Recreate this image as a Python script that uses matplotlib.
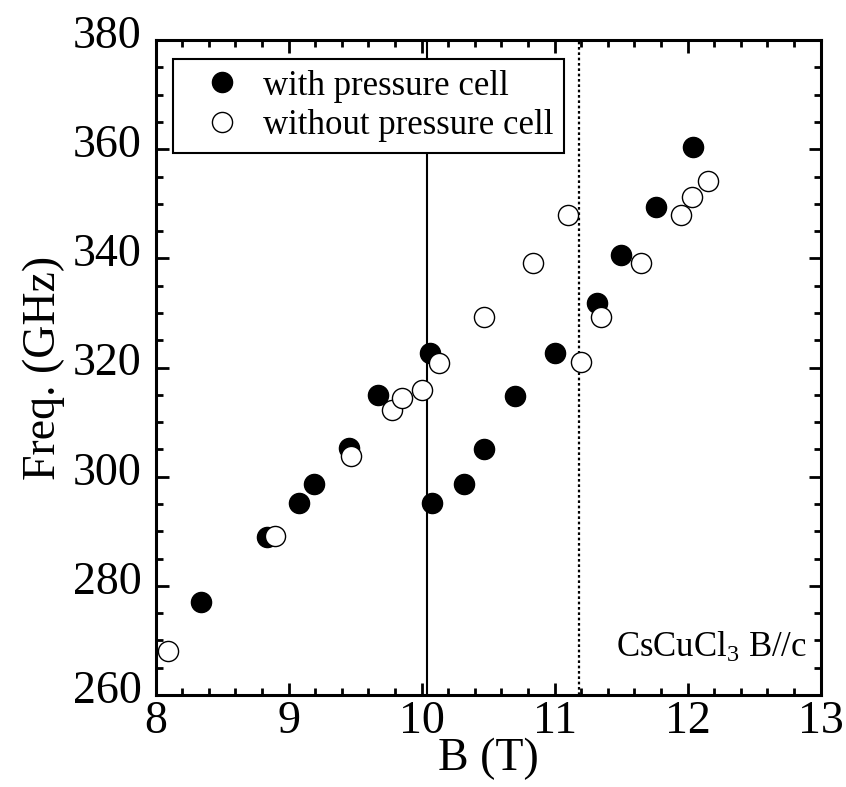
import numpy as np
import matplotlib
matplotlib.use('Agg')
import matplotlib.pyplot as plt
import matplotlib.transforms as mtransforms
from matplotlib.ticker import MultipleLocator

plt.rcParams['font.family'] = ['Liberation Serif', 'DejaVu Serif']
plt.rcParams['mathtext.fontset'] = 'custom'
plt.rcParams['mathtext.rm'] = 'Liberation Serif'
plt.rcParams['mathtext.it'] = 'Liberation Serif:italic'

# with pressure cell (filled)
b_with = [8.34, 8.84, 9.08, 9.19, 9.45, 9.67, 10.06, 10.08, 10.32, 10.47,
          10.70, 11.00, 11.32, 11.50, 11.76, 12.04]
f_with = [277.1, 288.9, 295.1, 298.6, 305.2, 314.9, 322.6, 295.1, 298.6, 305.1,
          314.8, 322.6, 331.9, 340.7, 349.5, 360.4]

# without pressure cell (open)
b_without = [8.09, 8.90, 9.47, 9.78, 9.85, 10.00, 10.13, 10.47, 10.84, 11.10,
             11.20, 11.35, 11.65, 11.95, 12.03, 12.15]
f_without = [268.1, 289.2, 303.7, 312.2, 314.5, 315.9, 320.9, 329.3, 339.1, 348.0,
             321.0, 329.2, 339.1, 347.9, 351.3, 354.2]

b_solid = 10.04
b_dotted = 11.18

fig = plt.figure(figsize=(8.46, 7.87), dpi=100)
ax = fig.add_axes([0.184, 0.117, 0.786, 0.832])

ax.axvline(b_solid, color='black', lw=1.5, zorder=1)
ax.axvline(b_dotted, color='black', lw=1.6, ls=(0, (1.2, 1.2)), zorder=1)

ax.plot(b_with, f_with, 'o', ms=14.5, mfc='black', mec='black', mew=1.0,
        label='with pressure cell', zorder=3)
ax.plot(b_without, f_without, 'o', ms=14.5, mfc='white', mec='black', mew=1.0,
        label='without pressure cell', zorder=4)

ax.set_xlim(8, 13)
ax.set_ylim(260, 380)
ax.xaxis.set_major_locator(MultipleLocator(1))
ax.xaxis.set_minor_locator(MultipleLocator(0.2))
ax.yaxis.set_major_locator(MultipleLocator(20))
ax.yaxis.set_minor_locator(MultipleLocator(5))
ax.tick_params(which='both', direction='in', top=True, right=True, width=2)
ax.tick_params(which='major', length=9, labelsize=33)
ax.tick_params(axis='x', which='major', pad=4)
ax.tick_params(axis='y', which='major', pad=10)
ax.tick_params(which='minor', length=5)
for s in ax.spines.values():
    s.set_linewidth(2.2)

# y tick labels sit a little above their ticks in the original
offset = mtransforms.ScaledTranslation(0, 6 / 72, fig.dpi_scale_trans)
for lab in ax.get_yticklabels():
    lab.set_transform(lab.get_transform() + offset)

ax.set_xlabel('B (T)', fontsize=33, labelpad=-4)
ax.set_ylabel('Freq. (GHz)', fontsize=33, labelpad=6)

ax.text(12.9, 268.6, 'CsCuCl$_3$ B//c', fontsize=25, ha='right', va='center')

leg = ax.legend(loc='upper left', bbox_to_anchor=(0.026, 0.971), borderaxespad=0,
                fontsize=25, fancybox=False, framealpha=1, edgecolor='black',
                handletextpad=0.1, labelspacing=0.2, borderpad=0.3, handlelength=2.2)
leg.get_frame().set_linewidth(1.5)

fig.savefig('out.png', dpi=100)
